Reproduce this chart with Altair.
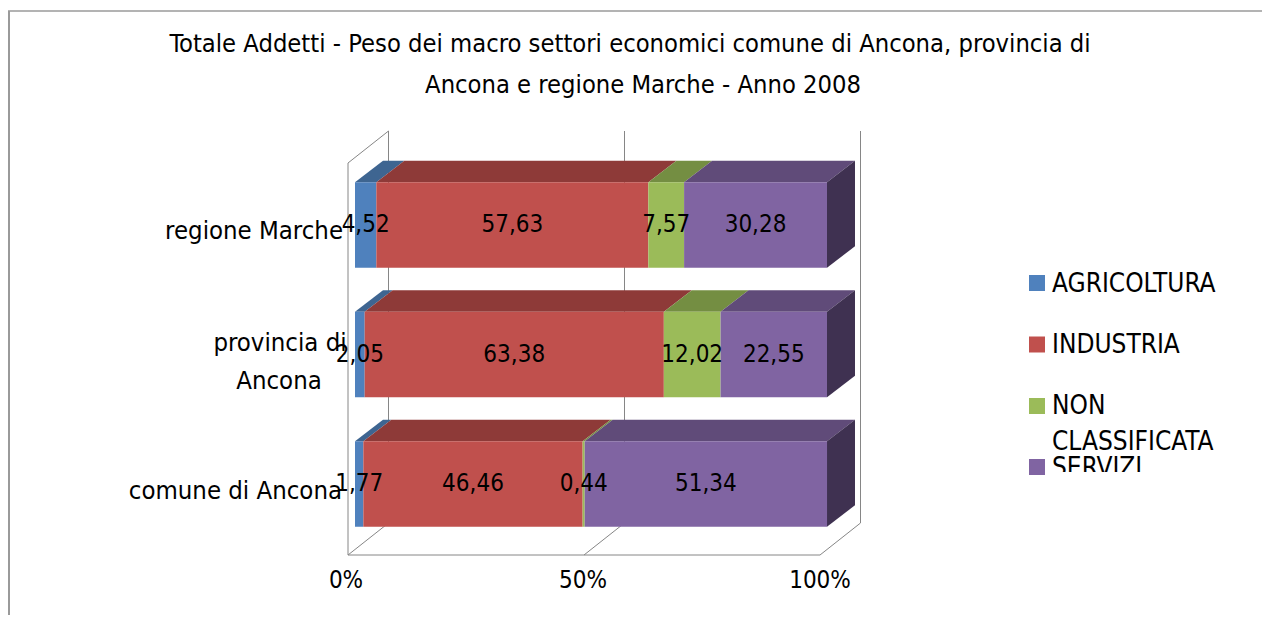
import altair as alt
import pandas as pd

# ---- values -----------------------------------------------------------
places = ["comune di Ancona", "provincia di Ancona", "regione Marche"]
series = ["AGRICOLTURA", "INDUSTRIA", "NON CLASSIFICATA", "SERVIZI"]
agricoltura = [1.77, 2.05, 4.52]
industria = [46.46, 63.38, 57.63]
non_classificata = [0.44, 12.02, 7.57]
servizi = [51.34, 22.55, 30.28]
value_labels = {
    "AGRICOLTURA": ["1,77", "2,05", "4,52"],
    "INDUSTRIA": ["46,46", "63,38", "57,63"],
    "NON CLASSIFICATA": ["0,44", "12,02", "7,57"],
    "SERVIZI": ["51,34", "22,55", "30,28"],
}
front_colors = ["#4F81BD", "#C0504D", "#9BBB59", "#8064A2"]
top_colors = ["#3E6591", "#8E3A38", "#748E42", "#604B79"]
side_color = "#3F3151"
grid_color = "#868686"
frame_color = "#9A9A9A"
FONT = "DejaVu Sans Condensed"

W, H = 1254, 607


# Projection of the fake 3D box, in scale units (percent / rows)
def sx(page_x):
    return (page_x - 355) / 4.72


def sy(page_y):
    return (484 - page_y) / 129.5


BAR_HALF = 0.33
BAR_DX = 28 / 4.72
BAR_DY = 21.5 / 129.5
WALL_X0 = sx(348)
WALL_DX = 40.5 / 4.72
WALL_DY = 32 / 129.5
FLOOR_Y = sy(555)
WALL_TOP = sy(163)

x_scale = alt.Scale(domain=[sx(8), sx(8 + W)], nice=False, zero=False)
y_scale = alt.Scale(domain=[sy(8 + H), sy(8)], nice=False, zero=False)
X = lambda f: alt.X(f, type="quantitative", scale=x_scale, axis=None)
Y = lambda f: alt.Y(f, type="quantitative", scale=y_scale, axis=None)
top_keys = [s + " top" for s in series]
color_all = alt.Color(
    "s:N",
    scale=alt.Scale(domain=series + top_keys, range=front_colors + top_colors),
    legend=None,
)

columns = {
    "AGRICOLTURA": agricoltura,
    "INDUSTRIA": industria,
    "NON CLASSIFICATA": non_classificata,
    "SERVIZI": servizi,
}

front, top, side, labels = [], [], [], []
for r, place in enumerate(places):
    cum = 0.0
    for s in series:
        v = columns[s][r]
        a, b = cum, cum + v
        cum = b
        y0, y1 = r - BAR_HALF, r + BAR_HALF
        seg = f"{r}-{s}"
        front.append({"r": r, "s": s, "a": a, "b": b, "y0": y0, "y1": y1})
        labels.append({"x": (a + b) / 2, "y": r, "t": value_labels[s][r]})
        top.append({"r": r, "seg": seg, "s": s + " top", "a": a, "b": b, "y": y1})
        top.append({"r": r, "seg": seg, "s": s + " top", "a": a + BAR_DX, "b": b + BAR_DX, "y": y1 + BAR_DY})
    side.append({"r": r, "x": 100, "y0": r - BAR_HALF, "y1": r + BAR_HALF})
    side.append({"r": r, "x": 100 + BAR_DX, "y0": r - BAR_HALF + BAR_DY, "y1": r + BAR_HALF + BAR_DY})

# wall and floor lines
walls = []


def wall(name, x0, y0, x1, y1):
    walls.append({"l": name, "x": x0, "y": y0})
    walls.append({"l": name, "x": x1, "y": y1})


wall("front0", WALL_X0, WALL_TOP, WALL_X0, FLOOR_Y)
wall("top0", WALL_X0, WALL_TOP, WALL_X0 + WALL_DX, WALL_TOP + WALL_DY)
wall("floor", WALL_X0, FLOOR_Y, WALL_X0 + 100, FLOOR_Y)
for p in [0, 50, 100]:
    bx = WALL_X0 + p + WALL_DX
    wall(f"back{p}", bx, FLOOR_Y + WALL_DY, bx, WALL_TOP + WALL_DY)
    wall(f"diag{p}", WALL_X0 + p, FLOOR_Y, bx, FLOOR_Y + WALL_DY)


def text(t, px, py, size=24, align="center"):
    return (
        alt.Chart(pd.DataFrame({"t": [t]}))
        .mark_text(font=FONT, fontSize=size, align=align, baseline="middle", color="#000000")
        .encode(text="t:N", x=alt.value(px - 8), y=alt.value(py - 8))
    )


one = pd.DataFrame({"a": [0]})
layers = []
# chart frame: left and top edges only reach the picture
layers.append(
    alt.Chart(one)
    .mark_rule(color=frame_color, strokeWidth=2)
    .encode(x=alt.value(1), y=alt.value(3), y2=alt.value(H))
)
layers.append(
    alt.Chart(one)
    .mark_rule(color=frame_color, strokeWidth=1.5)
    .encode(y=alt.value(3), x=alt.value(0), x2=alt.value(W))
)
# walls
layers.append(
    alt.Chart(pd.DataFrame(walls))
    .mark_line(color=grid_color, strokeWidth=1)
    .encode(x=X("x"), y=Y("y"), detail="l:N")
)
# bars, back row first
for r in [2, 1, 0]:
    rf = [d for d in front if d["r"] == r]
    rt = [d for d in top if d["r"] == r]
    rs = [d for d in side if d["r"] == r]
    layers.append(
        alt.Chart(pd.DataFrame(rt))
        .mark_area(orient="horizontal")
        .encode(x=X("a"), x2="b:Q", y=Y("y"), color=color_all, detail="seg:N")
    )
    layers.append(
        alt.Chart(pd.DataFrame(rs))
        .mark_area(orient="vertical", color=side_color)
        .encode(x=X("x"), y=Y("y0"), y2="y1:Q")
    )
    layers.append(
        alt.Chart(pd.DataFrame(rf))
        .mark_rect()
        .encode(x=X("a"), x2="b:Q", y=Y("y0"), y2="y1:Q", color=color_all)
    )

# axis tick labels
for t, p in zip(["0%", "50%", "100%"], [346, 583, 820]):
    layers.append(text(t, p, 581))
# category labels
layers.append(text("regione Marche", 343, 231, size=25.5, align="right"))
layers.append(text("provincia di", 280, 343, size=25.5))
layers.append(text("Ancona", 279, 381, size=25.5))
layers.append(text("comune di Ancona", 342, 491, size=25.5, align="right"))
# value labels
layers.append(
    alt.Chart(pd.DataFrame(labels))
    .mark_text(font=FONT, fontSize=24, color="#000000", baseline="middle")
    .encode(x=X("x"), y=Y("y"), text="t:N")
)
# title
layers.append(text("Totale Addetti - Peso dei macro settori economici comune di Ancona, provincia di", 630, 44, size=25.3))
layers.append(text("Ancona e regione Marche - Anno 2008", 643, 85, size=25.3))

# legend
legend_rows = pd.DataFrame({"s": series, "y": [sy(p) for p in [283, 344.5, 406, 467]]})
layers.append(
    alt.Chart(legend_rows)
    .mark_square(size=256, opacity=1, filled=True)
    .encode(x=alt.value(1037 - 8), y=Y("y"), color=color_all)
)
layers.append(text("AGRICOLTURA", 1052, 284, size=26, align="left"))
layers.append(text("INDUSTRIA", 1052, 345, size=26, align="left"))
layers.append(text("NON", 1052, 406, size=26, align="left"))
layers.append(text("CLASSIFICATA", 1052, 442, size=26, align="left"))
layers.append(text("SERVIZI", 1052, 468, size=26, align="left"))
# the reference's legend box cuts the last entry in half
layers.append(
    alt.Chart(one)
    .mark_rect(color="#FFFFFF")
    .encode(x=alt.value(1050 - 8), x2=alt.value(1240 - 8), y=alt.value(472 - 8), y2=alt.value(490 - 8))
)

chart = (
    alt.layer(*layers)
    .properties(width=W, height=H, padding=0, autosize=alt.AutoSizeParams(type="none"))
    .configure_view(stroke=None)
)
chart.save("out.html", embed_options={"renderer": "svg", "actions": False})
